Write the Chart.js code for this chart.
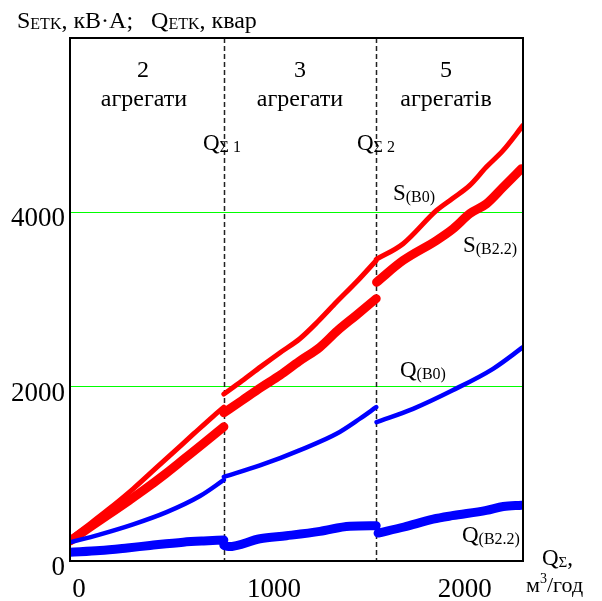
<!DOCTYPE html>
<html>
<head>
<meta charset="utf-8">
<script src="https://cdn.jsdelivr.net/npm/chart.js@4/dist/chart.umd.min.js"></script>
<style>
  html, body { margin: 0; padding: 0; background: #ffffff; }
  canvas { display: block; }
</style>
</head>
<body>
<canvas id="c" width="602" height="601"></canvas>
<script>
// Flow boundaries where the number of running units changes (m3/h)
const Q_SIGMA_1 = 806;
const Q_SIGMA_2 = 1604;

// Axis ranges and tick labels
const X_MAX = 2373;
const Y_MAX = 6000;
const X_TICKS = [0, 1000, 2000];
const Y_TICKS = [0, 2000, 4000];

// S(B0), kV·A  (null = break between operating modes)
const sB0X = [0, 100, 200, 331, 450, 550, 650, 750, 806, 806, 806, 900, 1000, 1100, 1204, 1300, 1396, 1500, 1604, 1604, 1604, 1745, 1920, 2002, 2094, 2181, 2269, 2373];
const sB0Y = [255, 420, 590, 828, 1065, 1264, 1463, 1660, 1765, null, 1915, 2065, 2230, 2390, 2550, 2750, 2970, 3200, 3448, null, 3460, 3640, 4022, 4156, 4309, 4519, 4710, 4997];

// S(B2.2), kV·A
const sB22X = [0, 100, 200, 300, 384, 500, 600, 700, 806, 806, 806, 900, 1000, 1100, 1200, 1309, 1400, 1500, 1604, 1604, 1606, 1745, 1920, 2007, 2094, 2181, 2269, 2365];
const sB22Y = [230, 380, 530, 680, 809, 1000, 1175, 1350, 1540, null, 1700, 1840, 1990, 2130, 2290, 2453, 2640, 2820, 3010, null, 3199, 3448, 3678, 3812, 3984, 4097, 4289, 4500];

// Q(B0), kvar
const qB0X = [0, 150, 331, 506, 681, 806, 806, 806, 995, 1221, 1396, 1518, 1604, 1604, 1606, 1797, 2002, 2216, 2373];
const qB0Y = [215, 300, 420, 560, 745, 930, null, 965, 1096, 1287, 1459, 1632, 1765, null, 1593, 1746, 1956, 2205, 2453];

// Q(B2.2), kvar
const qB22X = [0, 157, 300, 419, 593, 700, 806, 806, 806, 830, 995, 1134, 1309, 1466, 1604, 1604, 1614, 1750, 1902, 2002, 2181, 2270, 2365];
const qB22Y = [100, 120, 150, 178, 216, 230, 240, null, 180, 165, 255, 290, 340, 400, 405, null, 320, 390, 480, 520, 580, 625, 640];

const RED = '#ff0000';
const BLUE = '#0000ff';
const GRID = '#00ff00';
const SERIF = '"Liberation Serif", "Times New Roman", serif';

function points(xs, ys) {
  return xs.map((x, i) => ({ x: x, y: ys[i] }));
}

function series(xs, ys, color, width) {
  return {
    data: points(xs, ys),
    borderColor: color,
    backgroundColor: color,
    borderWidth: width,
    borderCapStyle: 'round',
    borderJoinStyle: 'round',
    pointRadius: 0,
    showLine: true,
    spanGaps: false,
    cubicInterpolationMode: 'monotone'
  };
}

// Draws a sequence of text pieces (main text, subscripts, superscripts) left to right
function drawRuns(ctx, x, y, runs) {
  let cx = x;
  for (const r of runs) {
    ctx.font = r.size + 'px ' + SERIF;
    ctx.fillText(r.t, cx, y + (r.dy || 0));
    cx += ctx.measureText(r.t).width;
  }
}

const framePlugin = {
  id: 'frameAndMarks',
  beforeDatasetsDraw(chart) {
    const { ctx, chartArea: a, scales } = chart;
    ctx.save();
    ctx.strokeStyle = '#222222';
    ctx.lineWidth = 1.5;
    ctx.setLineDash([5, 3]);
    for (const q of [Q_SIGMA_1, Q_SIGMA_2]) {
      const px = Math.round(scales.x.getPixelForValue(q)) + 0.5;
      ctx.beginPath();
      ctx.moveTo(px, a.top);
      ctx.lineTo(px, a.bottom);
      ctx.stroke();
    }
    ctx.restore();
  },
  afterDatasetsDraw(chart) {
    const { ctx, chartArea: a } = chart;
    ctx.save();
    ctx.strokeStyle = '#000000';
    ctx.lineWidth = 2;
    ctx.strokeRect(a.left, a.top, a.right - a.left, a.bottom - a.top);
    ctx.restore();
  },
  afterDraw(chart) {
    const { ctx, scales } = chart;
    ctx.save();
    ctx.fillStyle = '#000000';
    ctx.textBaseline = 'alphabetic';

    // Axis tick labels
    ctx.font = '27px ' + SERIF;
    ctx.textAlign = 'right';
    for (const v of Y_TICKS) {
      ctx.fillText(String(v), 65, scales.y.getPixelForValue(v) + 14);
    }
    ctx.textAlign = 'center';
    for (const v of X_TICKS) {
      const px = scales.x.getPixelForValue(v);
      ctx.fillText(String(v), v === 0 ? px + 9 : px + 13, 597);
    }

    // Unit-count captions for each operating zone
    ctx.font = '24px ' + SERIF;
    ctx.fillText('2', 143, 77);
    ctx.fillText('агрегати', 144, 106);
    ctx.fillText('3', 300, 77);
    ctx.fillText('агрегати', 300, 106);
    ctx.fillText('5', 446, 77);
    ctx.fillText('агрегатів', 446, 106);

    ctx.textAlign = 'left';
    // Vertical axis title
    drawRuns(ctx, 17, 28, [
      { t: 'S', size: 24 }, { t: 'ETK', size: 16, dy: 1 },
      { t: ', кВ·А;   Q', size: 24 }, { t: 'ETK', size: 16, dy: 1 },
      { t: ', квар', size: 24 }
    ]);

    // Boundary labels
    drawRuns(ctx, 203, 150, [{ t: 'Q', size: 23 }, { t: 'Σ 1', size: 16, dy: 2 }]);
    drawRuns(ctx, 357, 150, [{ t: 'Q', size: 23 }, { t: 'Σ 2', size: 16, dy: 2 }]);

    // Curve labels
    drawRuns(ctx, 393, 200, [{ t: 'S', size: 23 }, { t: '(B0)', size: 16, dy: 2 }]);
    drawRuns(ctx, 463, 252, [{ t: 'S', size: 23 }, { t: '(B2.2)', size: 16, dy: 2 }]);
    drawRuns(ctx, 400, 377, [{ t: 'Q', size: 23 }, { t: '(B0)', size: 16, dy: 2 }]);
    drawRuns(ctx, 462, 542, [{ t: 'Q', size: 23 }, { t: '(B2.2)', size: 16, dy: 2 }]);

    // Horizontal axis title
    drawRuns(ctx, 542, 565, [{ t: 'Q', size: 23 }, { t: 'Σ', size: 15, dy: 2 }, { t: ',', size: 23 }]);
    drawRuns(ctx, 526, 592, [{ t: 'м', size: 22 }, { t: '3', size: 14, dy: -9 }, { t: '/год', size: 22 }]);

    ctx.restore();
  }
};

new Chart(document.getElementById('c'), {
  type: 'scatter',
  data: {
    datasets: [
      series(qB22X, qB22Y, BLUE, 9),
      series(qB0X, qB0Y, BLUE, 4.5),
      series(sB22X, sB22Y, RED, 9),
      series(sB0X, sB0Y, RED, 5)
    ]
  },
  options: {
    responsive: false,
    animation: false,
    events: [],
    layout: { padding: { left: 70, top: 38, right: 79, bottom: 40 } },
    plugins: { legend: { display: false }, tooltip: { enabled: false } },
    scales: {
      x: {
        type: 'linear',
        min: 0,
        max: X_MAX,
        ticks: { display: false, stepSize: 1000 },
        border: { display: false },
        grid: {
          drawTicks: false,
          lineWidth: 1,
          color: (c) => (c.tick && X_TICKS.includes(c.tick.value) && c.tick.value !== 0) ? GRID : 'rgba(0,0,0,0)'
        }
      },
      y: {
        type: 'linear',
        min: 0,
        max: Y_MAX,
        ticks: { display: false, stepSize: 2000 },
        border: { display: false },
        grid: {
          drawTicks: false,
          lineWidth: 1,
          color: (c) => (c.tick && Y_TICKS.includes(c.tick.value) && c.tick.value !== 0) ? GRID : 'rgba(0,0,0,0)'
        }
      }
    }
  },
  plugins: [framePlugin]
});
</script>
</body>
</html>
